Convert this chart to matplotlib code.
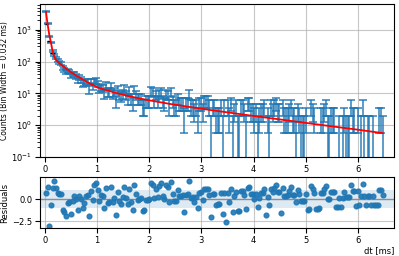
import numpy as np
import matplotlib
matplotlib.use("Agg")
import matplotlib.pyplot as plt

BIN_WIDTH = 0.032  # ms

# counts per bin (bins start at 0)
counts = [
    3745, 1552, 621, 407, 218, 166, 130, 107, 96, 86,
    64, 56, 47, 52, 48, 36, 41, 40, 35, 26,
    32, 27, 21, 22, 24, 23, 13, 23, 17, 24,
    25, 20, 14, 16, 15, 10, 18, 11, 11, 17,
    10, 11, 6, 13, 9, 8, 10, 14, 9, 7,
    12, 7, 5, 13, 9, 7, 7, 7, 4, 4,
    6, 6, 6, 12, 11, 6, 9, 6, 10, 11,
    6, 5, 10, 9, 4, 11, 6, 4, 4, 7,
    5, 5, 5, 2, 5, 5, 10, 4, 4, 3,
    4, 2, 5, 5, 3, 6, 6, 6, 4, 1,
    4, 4, 2, 2, 2, 4, 1, 4, 0, 4,
    2, 5, 1, 3, 4, 1, 1, 4, 4, 3,
    1, 5, 5, 3, 3, 2, 3, 1, 2, 3,
    3, 4, 0, 2, 1, 4, 3, 4, 5, 3,
    3, 0, 4, 2, 2, 2, 3, 4, 2, 2,
    1, 3, 2, 1, 1, 1, 2, 0, 0, 4,
    3, 2, 0, 0, 0, 2, 2, 3, 4, 1,
    1, 2, 2, 2, 0, 0, 1, 0, 1, 2,
    1, 1, 1, 4, 2, 2, 0, 2, 0, 1,
    4, 1, 0, 1, 1, 0, 1, 0, 0, 0,
    2, 2, 1,
]

residuals = [
    0.74, 1.34, -2.98, -0.64, 1.22, 2.0, 1.3, 0.68, 0.61, 0.54,
    -1.25, -1.47, -1.9, -0.42, -0.29, -1.67, -0.16, 0.32, 0.0, -1.18,
    0.35, 0.0, -0.98, -0.43, 0.31, 0.42, -1.94, 0.94, -0.12, 1.53,
    1.8, 1.03, -0.21, 0.45, 0.32, -1.03, 1.23, -0.39, -0.27, 1.35,
    -0.33, 0.09, -1.77, 0.83, -0.23, -0.5, 0.27, 1.37, 0.13, -0.51,
    1.11, -0.35, -1.21, 1.53, 0.56, -0.05, 0.02, 0.08, -1.3, -1.23,
    -0.14, -0.08, -0.02, 1.76, 1.58, 0.14, 1.15, 0.23, 1.48, 1.75,
    0.37, 0.0, 1.61, 1.4, -0.35, 1.93, 0.61, -0.22, -0.17, 1.04,
    0.37, 0.4, 0.43, -1.39, 0.5, 0.53, 1.98, 0.16, 0.2, -0.32,
    0.26, -1.02, 0.73, 0.76, -0.15, 1.14, 1.16, 1.18, 0.48, -2.0,
    0.53, 0.55, -0.61, -0.57, -0.54, 0.64, -1.68, 0.68, -2.6, 0.72,
    -0.36, 1.13, -1.43, 0.35, 0.82, -1.32, -1.28, 0.88, 0.9, 0.48,
    -1.13, 1.3, 1.31, 0.56, 0.58, 0.03, 0.62, -0.89, 0.1, 0.68,
    0.69, 1.12, -1.74, 0.21, -0.68, 1.18, 0.79, 1.2, 1.53, 0.84,
    0.85, -1.5, 1.27, 0.39, 0.4, 0.42, 0.94, 1.32, 0.47, 0.48,
    -0.3, 0.99, 0.52, -0.24, -0.22, -0.2, 0.58, -1.16, -1.14, 1.44,
    1.1, 0.64, -1.07, -1.05, -1.04, 0.69, 0.71, 1.16, 1.52, 0.04,
    0.06, 0.76, 0.77, 0.78, -0.88, -0.87, 0.14, -0.84, 0.17, 0.84,
    0.2, 0.21, 0.22, 1.62, 0.88, 0.89, -0.73, 0.9, -0.71, 0.3,
    1.66, 0.32, -0.67, 0.34, 0.35, -0.64, 0.37, -0.62, -0.61, -0.6,
    1.0, 1.0, 0.43,
]

# fitted curve, read at a few points
fit_x = [0.016, 0.048, 0.08, 0.112, 0.144, 0.176, 0.208, 0.24, 0.3, 0.4, 0.5,
         0.6, 0.7, 0.8, 0.9, 1.0, 1.2, 1.4, 1.6, 1.8, 2.0, 2.4, 2.8, 3.2,
         3.6, 4.0, 4.5, 5.0, 5.5, 6.0, 6.48]
fit_y = [3700, 1500, 700, 400, 210, 140, 115, 100, 82, 61, 46,
         36, 29, 23, 19, 15.5, 12.3, 9.95, 8.27, 7.0, 6.05, 4.65, 3.68, 2.95,
         2.4, 1.95, 1.52, 1.18, 0.92, 0.72, 0.56]

# black markers near the start
black_x = [0.02, 0.06, 0.14]
black_y = [1500, 450, 190]
black_xerr = [0.03, 0.03, 0.05]

res_ticks = [-2.5, 0.0, 2.5]

counts = np.array(counts, dtype=float)
residuals = np.array(residuals)
centers = BIN_WIDTH / 2 + BIN_WIDTH * np.arange(len(counts))
nonzero = counts > 0

plt.rcParams["font.size"] = 6
plt.rcParams["xtick.major.pad"] = 2
plt.rcParams["ytick.major.pad"] = 2

fig = plt.figure(figsize=(3.99, 2.56), dpi=100)
ax = fig.add_axes([0.100, 0.387, 0.888, 0.598])
ax_res = fig.add_axes([0.100, 0.109, 0.888, 0.199])

ax.errorbar(centers[nonzero], counts[nonzero], yerr=np.sqrt(counts[nonzero]),
            fmt="none", ecolor="tab:blue", elinewidth=1.2, capsize=3, capthick=1.2,
            alpha=0.85)
ax.errorbar(black_x, black_y, xerr=black_xerr, fmt="none", ecolor="black", elinewidth=1)
ax.plot(fit_x, fit_y, color="red", linewidth=1.3, zorder=5)
ax.set_yscale("log")
ax.set_xlim(-0.1, 6.7)
ax.set_ylim(0.1, 6600)
ax.set_ylabel("Counts (Bin Width = 0.032 ms)", fontsize=5.5, labelpad=2)
ax.grid(True, which="major", color="#b0b0b0", linewidth=0.8, alpha=0.7)

ax_res.axhspan(-1, 1, color="tab:blue", alpha=0.15, linewidth=0)
ax_res.axhline(0, color="gray", linewidth=1, alpha=0.8)
ax_res.plot(centers, residuals, "o", color="tab:blue", markersize=3.4, alpha=0.9)
ax_res.set_xlim(-0.1, 6.7)
ax_res.set_yticks(res_ticks)
ax_res.set_ylim(-3.24, 2.46)
ax_res.set_ylabel("Residuals", labelpad=2)
ax_res.set_xlabel("dt [ms]", loc="right", labelpad=1)
ax_res.grid(True, color="#b0b0b0", linewidth=0.8, alpha=0.7)

fig.savefig("out.png", dpi=100)
